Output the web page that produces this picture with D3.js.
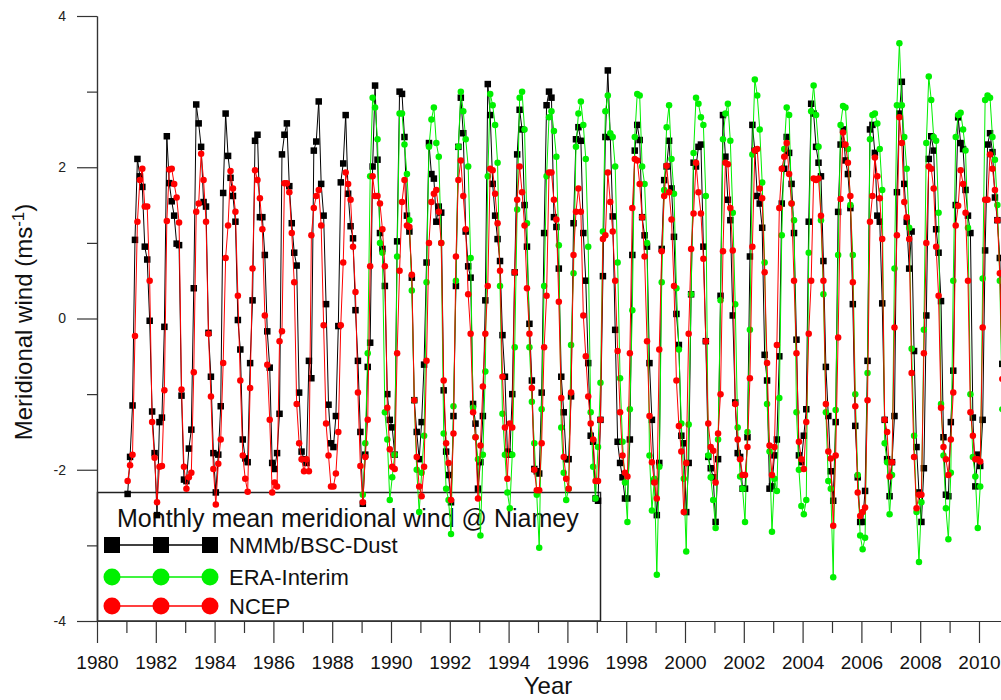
<!DOCTYPE html>
<html>
<head>
<meta charset="utf-8">
<script src="https://cdnjs.cloudflare.com/ajax/libs/d3/7.8.5/d3.min.js"></script>
<style>
  body { margin: 0; background: #fff; }
  svg { display: block; font-family: "Liberation Sans", Arial, sans-serif; }
</style>
</head>
<body>
<div id="chart"></div>
<script>
// monthly means, one row per year (Jan..Dec)
var nmmbStart = 1981;
var nmmb = [
  [-2.32,-1.83,-1.15,1.04,2.11,1.88,1.74,0.95,0.78,-0.03,-1.23,-1.78],
  [-2.60,-1.37,-1.31,-0.11,2.41,1.79,1.55,1.36,0.99,0.97,-1.02,-2.13],
  [-2.15,-1.72,-1.47,0.40,2.83,2.58,2.27,1.54,1.48,-0.19,-0.77,-1.78],
  [-2.30,-1.80,-1.16,1.66,2.71,2.15,1.86,1.62,1.28,-0.02,-0.41,-1.60],
  [-1.85,-1.90,-0.59,0.24,2.35,2.43,1.34,1.34,0.84,-0.17,-0.65,-1.91],
  [-1.99,-1.78,-1.26,2.17,2.43,2.58,1.75,1.26,0.87,0.70,-0.98,-1.76],
  [-1.86,-1.91,-0.56,-0.79,2.22,2.34,2.87,1.78,1.36,0.19,-1.14,-1.65],
  [-1.70,-1.29,-0.10,1.80,2.05,2.69,1.65,1.22,1.06,0.11,-0.56,-1.50],
  [-2.45,-1.80,-0.64,-0.32,2.01,3.08,2.10,1.13,0.92,0.43,-1.00,-1.34],
  [-1.44,-1.80,1.02,3.00,2.97,2.40,1.36,1.15,0.54,-1.08,-1.50,-1.86],
  [-1.37,-0.61,0.74,2.32,1.91,1.85,1.28,1.48,1.40,-0.95,-1.76,-2.07],
  [-2.43,-1.29,0.43,2.27,2.92,2.45,1.15,0.69,0.54,-1.13,-1.39,-2.25],
  [-1.90,-1.29,0.24,3.10,2.69,1.78,1.36,1.05,0.76,-0.22,-0.77,-1.76],
  [-1.80,-1.00,0.61,2.17,2.76,2.50,1.50,0.95,-0.07,-0.82,-1.99,-2.02],
  [-2.05,-0.98,1.13,2.82,3.00,2.92,1.34,1.21,0.66,-0.77,-1.24,-1.86],
  [-1.86,-1.03,1.26,2.37,2.53,2.35,1.13,0.50,-0.59,-1.55,-1.63,-2.38],
  [-2.41,-1.34,0.56,2.40,3.28,2.40,1.35,-0.15,-1.63,-1.91,-2.10,-2.38],
  [-2.38,-1.60,0.84,2.22,2.56,2.36,1.34,1.10,0.95,-0.59,-1.34,-2.15],
  [-2.60,-1.91,0.92,1.83,2.01,2.35,1.72,1.08,0.06,-0.35,-1.55,-1.65],
  [-2.56,-1.91,0.32,2.06,2.01,2.27,2.30,0.95,-0.30,-1.83,-1.98,-2.10],
  [-2.69,-1.86,0.30,2.69,2.14,1.57,1.30,0.04,-1.11,-1.78,-1.83,-2.25],
  [-2.25,-1.57,0.82,2.56,2.22,1.62,1.52,1.20,-0.48,-0.82,-2.25,-2.22],
  [-1.81,-1.60,-0.50,1.52,1.98,2.40,2.19,1.78,1.13,-0.28,-1.81,-1.90],
  [-1.55,-1.20,1.28,2.84,2.71,2.27,2.06,1.88,0.76,-0.64,-1.29,-2.02],
  [-2.41,-1.37,1.41,2.30,2.50,2.09,1.91,1.46,0.19,-1.42,-2.10,-2.69],
  [-2.69,-2.28,-0.56,2.50,2.56,2.19,1.36,1.28,0.20,-1.34,-1.86,-2.35],
  [-1.90,-1.29,1.67,2.71,3.13,1.78,1.28,0.66,1.15,-0.43,-1.70,-2.30],
  [-2.69,-1.98,0.04,2.11,2.41,2.22,1.18,0.87,0.23,-1.57,-2.33,-2.35],
  [-1.37,-0.69,1.50,2.66,2.32,2.24,1.70,1.36,1.13,-1.31,-2.22,-1.80],
  [-1.95,-1.34,0.90,2.30,2.45,2.20,1.60,1.30,0.80,-0.60,-1.70,-2.20]
];

var eraStart = 1989;
var era = [
  [-2.33,-1.65,-0.46,1.88,2.92,2.79,2.37,1.00,0.87,-1.24,-1.60,-2.40],
  [-2.10,-1.80,0.82,2.71,2.71,2.30,1.91,1.30,0.37,-1.08,-2.00,-2.56],
  [-2.04,-1.55,0.48,2.27,2.63,2.79,2.32,2.14,1.00,-1.52,-2.25,-2.40],
  [-2.85,-1.16,0.50,2.27,3.00,2.74,2.37,2.01,0.80,-1.18,-1.57,-1.86],
  [-2.87,-1.80,-0.70,1.88,2.97,2.82,2.56,2.06,0.43,-1.26,-1.80,-2.30],
  [-2.51,-1.80,-0.38,1.44,2.92,3.00,2.50,1.26,-0.38,-1.10,-1.65,-2.33],
  [-3.03,-1.20,0.43,1.88,2.66,2.74,2.48,2.14,0.97,-1.44,-2.04,-2.40],
  [-2.25,-0.35,0.60,2.27,2.71,2.87,2.56,2.11,0.95,-1.24,-1.96,-2.38],
  [-1.70,-0.85,1.15,2.74,2.95,2.45,2.40,2.01,0.74,-0.79,-1.63,-2.17],
  [-2.69,-1.20,0.11,2.40,2.97,2.95,2.01,1.78,1.00,-1.81,-2.54,-2.12],
  [-3.39,-1.96,0.48,1.70,2.53,2.82,2.11,1.65,0.40,-0.41,-1.39,-2.12],
  [-3.08,-1.40,0.32,2.19,2.92,2.84,2.66,2.56,1.62,-1.81,-2.10,-2.40],
  [-2.77,-1.60,0.24,2.37,2.71,2.84,2.35,1.40,0.19,-1.44,-2.09,-2.25],
  [-2.69,-1.50,-0.15,2.17,3.16,2.95,2.50,1.80,0.74,-1.13,-1.76,-2.82],
  [-2.12,-2.28,-1.05,1.10,2.24,2.79,2.69,1.52,1.30,-1.24,-2.00,-2.48],
  [-2.59,-2.40,0.87,2.74,3.08,2.69,2.27,1.30,0.32,-1.24,-2.15,-2.25],
  [-3.42,-1.21,0.84,2.56,2.81,2.79,2.24,1.50,0.84,-1.00,-2.07,-2.87],
  [-3.05,-2.90,-0.72,2.37,2.69,2.71,2.58,2.24,1.70,-1.65,-1.90,-2.59],
  [-2.07,0.66,2.82,3.64,2.82,2.40,1.98,1.20,-0.40,-1.55,-2.56,-3.22],
  [-2.43,-0.15,2.32,3.20,2.89,2.40,2.35,1.40,-1.13,-1.81,-2.51,-2.92],
  [-2.04,0.50,2.40,2.69,2.72,2.50,2.22,1.20,-1.00,-1.83,-2.09,-2.77],
  [-2.22,0.53,2.89,2.95,2.92,2.40,2.10,1.50,0.50,-1.20,-2.20,-2.60]
];

var ncepStart = 1981;
var ncep = [
  [-2.15,-1.94,-1.80,-0.23,1.28,1.83,1.98,1.48,1.48,0.50,-1.37,-1.84],
  [-2.43,-1.96,-1.95,-0.95,1.29,1.97,1.98,1.78,1.60,1.27,-0.94,-1.96],
  [-2.25,-2.10,-2.04,-0.71,1.41,1.52,2.18,1.83,1.28,-0.20,-1.03,-1.99],
  [-2.46,-1.92,-1.60,-0.59,0.80,1.23,1.95,1.72,1.41,0.30,-0.82,-1.81],
  [-2.12,-2.29,-0.92,0.66,1.96,1.83,1.59,1.18,0.04,-0.61,-1.34,-2.30],
  [-2.17,-2.22,-0.30,-0.17,1.79,1.79,1.67,1.13,0.48,-1.13,-1.65,-1.86],
  [-2.02,-1.86,-2.02,1.10,1.46,1.62,1.70,1.23,-0.09,-1.39,-1.81,-2.22],
  [-2.22,-2.05,-1.50,-0.09,0.74,1.93,1.78,1.57,0.95,0.35,-0.98,-1.95],
  [-2.43,-1.83,-1.34,0.69,1.88,1.62,1.62,1.52,1.18,0.69,-1.18,-1.73],
  [-1.96,-1.99,-0.46,0.63,1.54,1.83,1.23,1.21,0.58,-1.08,-1.83,-2.22],
  [-2.35,-1.96,-0.56,1.00,1.54,1.65,1.70,1.41,1.00,-0.82,-1.65,-1.91],
  [-2.40,-1.52,0.82,1.83,2.09,1.62,1.18,0.32,-0.20,-1.24,-1.57,-2.38],
  [-1.68,-0.90,-0.20,0.43,1.98,1.96,1.65,1.26,0.63,-0.77,-1.44,-2.12],
  [-1.39,-1.44,0.61,1.57,2.01,1.67,1.23,0.40,-0.20,-0.92,-2.00,-2.27],
  [-2.27,-1.65,-0.38,0.30,1.93,1.93,1.57,1.31,0.22,-1.05,-1.83,-2.12],
  [-2.25,-0.98,0.84,1.41,1.72,1.41,0.04,-0.50,-1.03,-1.39,-1.60,-2.15],
  [-2.15,-1.34,1.05,1.10,1.93,1.54,1.15,0.50,-0.43,-1.24,-1.81,-2.04],
  [-2.09,-0.46,1.46,2.11,2.09,1.78,1.34,0.82,-0.30,-1.29,-1.90,-2.17],
  [-2.38,-0.41,0.89,1.62,2.02,1.67,1.31,0.43,-0.82,-1.42,-1.76,-2.56],
  [-1.91,-0.20,0.92,1.39,2.06,1.67,1.39,0.79,-0.30,-1.39,-1.70,-1.75],
  [-2.17,-1.52,-1.00,0.89,2.06,2.04,1.46,0.90,-1.13,-1.60,-1.86,-2.07],
  [-2.07,-1.70,-0.79,0.95,2.22,2.24,1.72,1.59,0.61,-0.59,-1.68,-2.07],
  [-1.70,-0.35,1.46,1.98,2.14,2.32,1.91,1.52,0.50,-0.46,-1.63,-1.86],
  [-1.99,-1.37,-0.20,0.50,1.85,1.83,1.85,1.36,0.50,-1.13,-1.76,-1.85],
  [-2.74,-1.81,-0.25,1.58,2.46,2.30,2.06,1.62,0.48,-1.16,-2.30,-2.61],
  [-2.56,-2.50,-1.08,1.28,1.62,2.13,1.88,1.59,1.05,-1.34,-1.50,-2.09],
  [-1.90,-0.12,1.10,2.66,2.32,1.54,1.34,1.05,-0.72,-1.83,-2.51,-2.33],
  [-2.33,-0.46,1.00,2.01,1.98,1.72,0.95,0.30,-1.18,-1.70,-1.86,-2.07],
  [-1.60,-0.98,1.23,1.49,1.96,1.78,1.40,0.50,-1.24,-1.55,-1.86,-1.86],
  [-1.89,-0.12,1.57,1.57,2.17,1.98,1.70,1.30,0.60,-0.80,-1.70,-2.10]
];

var seriesNames = ["NMMb/BSC-Dust", "ERA-Interim", "NCEP"];
var xMajorTicks = [1980,1982,1984,1986,1988,1990,1992,1994,1996,1998,2000,2002,2004,2006,2008,2010];
var xMinorTicks = [1981,1983,1985,1987,1989,1991,1993,1995,1997,1999,2001,2003,2005,2007,2009];
var yMajorTicks = [-4,-2,0,2,4];
var yMinorTicks = [-3,-1,1,3];

var W = 1001, H = 700;
var svg = d3.select("#chart").append("svg")
    .attr("width", W)
    .attr("height", H);

// x: 1980 -> 97px, 2010 -> ~979px (axis runs off the right edge)
var pxYear = 29.4;
var x = d3.scaleLinear().domain([1980, 2011]).range([97, 97 + 31 * pxYear]);
var y = d3.scaleLinear().domain([-4, 4]).range([621, 16]);

function flat(rows, start) {
    var out = [];
    rows.forEach(function (row, i) {
        row.forEach(function (v, m) {
            out.push({ t: start + i + (m + 0.5) / 12, v: v });
        });
    });
    return out;
}

var axisColor = "#333";
var green = "#00f000";

// legend box (under the data, like the original)
var lg = svg.append("g");
lg.append("rect")
    .attr("x", 97.5).attr("y", 492.5)
    .attr("width", 503).attr("height", 128.5)
    .attr("fill", "#fff")
    .attr("stroke", "#222").attr("stroke-width", 1.5);
lg.append("text")
    .attr("x", 117).attr("y", 527)
    .attr("font-size", 25).attr("fill", "#111")
    .text("Monthly mean meridional wind @ Niamey");

var legendRows = [
    { name: seriesNames[0], color: "#000", shape: "square", y: 545 },
    { name: seriesNames[1], color: green, shape: "circle", y: 577 },
    { name: seriesNames[2], color: "#ff0000", shape: "circle", y: 606 }
];
var legendMarkX = [112, 161, 210];
legendRows.forEach(function (r) {
    lg.append("line")
        .attr("x1", legendMarkX[0]).attr("x2", legendMarkX[2])
        .attr("y1", r.y).attr("y2", r.y)
        .attr("stroke", r.color).attr("stroke-width", 1.5);
    legendMarkX.forEach(function (mx) {
        if (r.shape == "square") {
            lg.append("rect")
                .attr("x", mx - 8).attr("y", r.y - 8)
                .attr("width", 16).attr("height", 16)
                .attr("fill", r.color);
        } else {
            lg.append("circle")
                .attr("cx", mx).attr("cy", r.y).attr("r", 8.5)
                .attr("fill", r.color);
        }
    });
    lg.append("text")
        .attr("x", 229).attr("y", r.y)
        .attr("dy", "0.36em")
        .attr("font-size", 22).attr("fill", "#111")
        .text(r.name);
});

// axes
var yAxisMinor = svg.append("g")
    .attr("transform", "translate(97,0)")
    .call(d3.axisLeft(y).tickValues(yMinorTicks).tickSize(10).tickSizeOuter(0).tickFormat(""));
var yAxis = svg.append("g")
    .attr("transform", "translate(97,0)")
    .call(d3.axisLeft(y).tickValues(yMajorTicks).tickSize(20).tickSizeOuter(0).tickPadding(11)
        .tickFormat(function (d) { return d; }));
yAxis.selectAll("text").attr("font-size", 14).attr("fill", "#222");

var xAxisMinor = svg.append("g")
    .attr("transform", "translate(0,621)")
    .call(d3.axisBottom(x).tickValues(xMinorTicks).tickSize(12).tickSizeOuter(0).tickFormat(""));
var xAxis = svg.append("g")
    .attr("transform", "translate(0,621)")
    .call(d3.axisBottom(x).tickValues(xMajorTicks).tickSize(22).tickSizeOuter(0)
        .tickFormat(function (d) { return d; }));
xAxis.selectAll("text")
    .attr("y", 48).attr("dy", 0)
    .attr("font-family", "'Liberation Sans Narrow', 'Arial Narrow', sans-serif")
    .attr("font-size", 19).attr("fill", "#111");

[yAxisMinor, yAxis, xAxisMinor, xAxis].forEach(function (g) {
    g.selectAll("path, line").attr("stroke", axisColor).attr("stroke-width", 1.2);
});

// axis titles
svg.append("text")
    .attr("x", 548).attr("y", 694)
    .attr("text-anchor", "middle")
    .attr("font-size", 24).attr("fill", "#111")
    .text("Year");

var yt = svg.append("text")
    .attr("transform", "translate(32,322) rotate(-90)")
    .attr("text-anchor", "middle")
    .attr("font-size", 24).attr("fill", "#111");
yt.append("tspan").text("Meridional wind (ms");
yt.append("tspan").attr("dy", -8).attr("font-size", 17).text("-1");
yt.append("tspan").attr("dy", 8).text(")");

// data
var line = d3.line()
    .x(function (d) { return x(d.t); })
    .y(function (d) { return y(d.v); });

function drawSeries(data, color, shape, size) {
    var g = svg.append("g");
    g.append("path")
        .datum(data)
        .attr("d", line)
        .attr("fill", "none")
        .attr("stroke", color)
        .attr("stroke-width", 1);
    if (shape == "square") {
        g.selectAll("rect").data(data).enter().append("rect")
            .attr("x", function (d) { return x(d.t) - size / 2; })
            .attr("y", function (d) { return y(d.v) - size / 2; })
            .attr("width", size).attr("height", size)
            .attr("fill", color);
    } else {
        g.selectAll("circle").data(data).enter().append("circle")
            .attr("cx", function (d) { return x(d.t); })
            .attr("cy", function (d) { return y(d.v); })
            .attr("r", size / 2)
            .attr("fill", color);
    }
}

drawSeries(flat(nmmb, nmmbStart), "#000", "square", 6.5);
drawSeries(flat(era, eraStart), green, "circle", 6.5);
drawSeries(flat(ncep, ncepStart), "#ff0000", "circle", 6.5);
</script>
</body>
</html>
